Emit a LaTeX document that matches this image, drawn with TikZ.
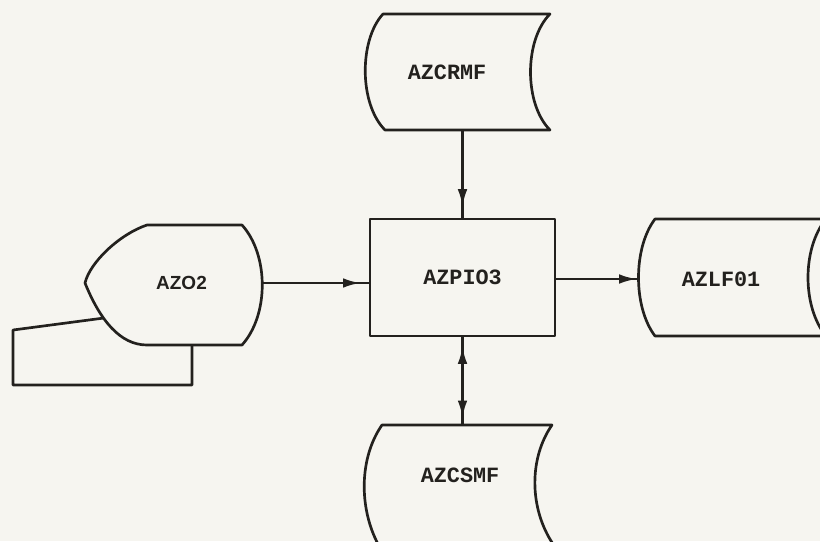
\documentclass[tikz,border=0pt]{standalone}
\usepackage{fontspec}
\newfontfamily\typefont{Liberation Mono}
\newfontfamily\labelsans{Liberation Sans}
\usetikzlibrary{arrows.meta,decorations.markings}
\definecolor{sheet}{RGB}{246,245,240}
\definecolor{ink}{RGB}{35,33,30}
\tikzset{
    lbl/.style={font=\typefont\bfseries\fontsize{15.5}{18}\selectfont, text=ink, inner sep=0pt, outer sep=0pt},
    lblsans/.style={font=\labelsans\bfseries\fontsize{13.5}{16}\selectfont, text=ink, inner sep=0pt, outer sep=0pt},
    tipat/.style={postaction={decorate, decoration={markings,
            mark=at position #1 with {\arrow{Latex[length=4.4mm,width=2.4mm]}}}}},
    tipback/.style={postaction={decorate, decoration={markings,
            mark=at position #1 with {\arrowreversed{Latex[length=4.4mm,width=2.4mm]}}}}}
}

\begin{document}
\begin{tikzpicture}[x=0.025cm,y=-0.025cm,line width=1.9pt,color=ink,line join=round]
        \fill[sheet] (0,0) rectangle (820,541);
        \useasboundingbox (0,0) rectangle (820,541);

        \node[draw, lbl, minimum width=4.625cm, minimum height=2.925cm, outer sep=0.95pt] (pio) at (462.5,277.5) {AZPIO3};

        \draw (383,14) -- (550,14) .. controls (524,40) and (524,104) .. (550,130)
            -- (385,130) .. controls (359,104) and (359,40) .. (383,14) -- cycle;
        \node[lbl, minimum height=2.9cm] (crmf) at (447,72) {AZCRMF};

        \draw (382,425) -- (552,425) .. controls (529,458) and (529,508) .. (553,544)
            -- (378,544) .. controls (359,508) and (359,458) .. (382,425) -- cycle;
        \node[lbl, minimum height=2.5cm] (csmf) at (460,475) {AZCSMF};

        \draw (826,219) -- (655,219) .. controls (633,248) and (633,307) .. (655,336)
            -- (826,336) .. controls (802,307) and (802,248) .. (826,219) -- cycle;
        \node[lbl, minimum width=4.15cm] (lf) at (721,279) {AZLF01};

        \draw (147,225) -- (242,225) .. controls (269,255) and (269,315) .. (242,345)
            -- (147,345) .. controls (120,345) and (100,320) .. (85,283)
            .. controls (90,262) and (120,234) .. (147,225) -- cycle;
        \draw (104,318) -- (13,330) -- (13,385) -- (192,385) -- (192,345);
        \node[lblsans, minimum width=4.025cm] (azo) at (181.5,283) {AZO2};

        \draw[tipat=-0.27cm] (pio.north |- crmf.south) -- (pio.north);
        \draw[tipat=-0.2cm] (azo.east) -- (azo.east -| pio.west);
        \draw[tipat=-0.03cm] (pio.east |- lf.west) -- (lf.west);
        \draw[tipat=-0.17cm, tipback=0.22cm] (pio.south) -- (pio.south |- csmf.north);
\end{tikzpicture}
\end{document}
